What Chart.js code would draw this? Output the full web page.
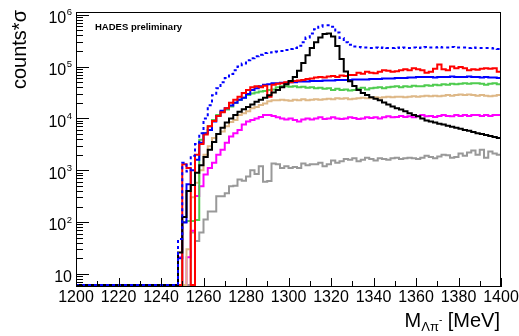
<!DOCTYPE html>
<html>
<head>
<meta charset="utf-8">
<script src="https://cdn.jsdelivr.net/npm/chart.js@4.4.0/dist/chart.umd.min.js"></script>
<style>
  body { margin: 0; background: #fff; }
  #wrap { width: 519px; height: 336px; }
</style>
</head>
<body>
<div id="wrap"><canvas id="chart" width="519" height="336"></canvas></div>
<script>
// histogram binning: 2 MeV bins, everything below 1248 MeV is empty
const firstEdge = 1200, lastEdge = 1400, binWidth = 2, dataStart = 1248;
const xTickLabels = [1200, 1220, 1240, 1260, 1280, 1300, 1320, 1340, 1360, 1380, 1400];
const yDecades = [1, 2, 3, 4, 5, 6];

// bins from 1248 to 1398 (76 bins)
const total = [ // blue dotted
  47, 1400, 950, 1900, 3200, 5200, 10000, 18000, 28000, 38000,
  50000, 60000, 72000, 85000, 100000, 115000, 132000, 145000, 158000, 170000,
  182000, 186000, 190000, 195000, 200000, 209000, 219000, 229000, 251000, 295000,
  363000, 436000, 525000, 589000, 630000, 630000, 589000, 457000, 355000, 295000,
  263000, 245000, 240000, 234000, 234000, 229000, 234000, 229000, 234000, 229000,
  229000, 234000, 229000, 234000, 229000, 234000, 229000, 234000, 240000, 234000,
  234000, 240000, 234000, 234000, 240000, 234000, 234000, 234000, 229000, 234000,
  229000, 229000, 229000, 229000, 224000, 219000
];
const xiMinus = [ // black
  26, 125, 400, 520, 900, 1250, 1800, 2500, 3500, 5000,
  6600, 8300, 10000, 11700, 13500, 15000, 16600, 18600, 21000, 23000,
  25000, 28000, 31600, 35500, 39800, 45700, 52500, 63100, 83200, 117000,
  166000, 229000, 295000, 363000, 427000, 437000, 380000, 250000, 140000, 80000,
  52000, 42000, 35500, 30900, 28200, 25700, 24000, 22400, 20400, 18600,
  17000, 15800, 14800, 13800, 12600, 11700, 11000, 10000, 9100, 8700,
  8300, 7900, 7600, 7200, 6900, 6600, 6300, 6000, 5800, 5500,
  5200, 5000, 4800, 4600, 4400, 4200
];
const redSeries = [
  0, 1300, 1100, 0, 2000, 3200, 4900, 7100, 8900, 11200,
  13200, 15800, 20000, 23000, 26300, 31000, 35500, 40000, 41700, 40000,
  42700, 26300, 44700, 46800, 47900, 50000, 50000, 52500, 53700, 55000,
  57500, 58900, 61700, 63100, 61700, 64600, 66100, 63100, 67600, 66100,
  69200, 69200, 75900, 72400, 79400, 75900, 74100, 79400, 85100, 83200,
  79400, 81300, 85100, 89100, 85100, 93300, 89100, 85100, 75900, 79400,
  91200, 110000, 89100, 85100, 100000, 93300, 97700, 93300, 85100, 89100,
  87100, 91200, 93300, 91200, 93300, 79400
];
const blueSeries = [
  20, 98, 540, 1000, 1600, 3400, 5200, 6000, 8700, 11200,
  14100, 15800, 17800, 20000, 22900, 25100, 29500, 35500, 38000, 41700,
  44700, 45700, 47900, 47900, 49000, 49000, 50100, 50100, 51300, 51300,
  51300, 52500, 52500, 52500, 53700, 53700, 53700, 55000, 55000, 55000,
  55000, 56200, 56200, 56200, 56200, 57500, 57500, 57500, 58900, 58900,
  58900, 60300, 60300, 60300, 61700, 61700, 63100, 63100, 63100, 63100,
  61700, 63100, 63100, 63100, 64600, 63100, 63100, 63100, 64600, 63100,
  63100, 61700, 63100, 61700, 61700, 60300
];
const greenSeries = [
  0, 100, 105, 105, 110, 3900, 5200, 7100, 9300, 11700,
  13500, 14800, 17000, 20000, 22900, 25100, 28200, 30200, 31600, 33100,
  33900, 35500, 36300, 39800, 41700, 41700, 40700, 41700, 39800, 40700,
  38900, 39800, 38000, 38900, 37200, 38000, 35500, 37200, 35500, 36300,
  34700, 35500, 37200, 38900, 36300, 38000, 38900, 39800, 38000, 39800,
  40700, 41700, 39800, 41700, 40700, 42700, 41700, 41700, 43700, 42700,
  44700, 43700, 45700, 44700, 46800, 45700, 46800, 47900, 46800, 47900,
  47900, 46800, 44700, 46800, 47900, 45700
];
const tanSeries = [
  0, 0, 30, 300, 575, 1000, 2000, 2900, 4200, 5000,
  5600, 7100, 8500, 9300, 11700, 12600, 13800, 15800, 16600, 18200,
  19500, 21400, 22400, 22400, 22900, 22400, 21900, 22900, 22400, 23400,
  22400, 22900, 23400, 22900, 23400, 24000, 23400, 24500, 24000, 24500,
  23400, 24000, 24500, 25100, 24500, 25100, 25700, 25100, 25700, 26300,
  25700, 26300, 26300, 25700, 26300, 26900, 26300, 26900, 27500, 26900,
  27500, 26900, 27500, 28200, 27500, 28200, 28800, 28200, 28800, 28200,
  27500, 28200, 27500, 26900, 27500, 28200
];
const magentaSeries = [
  21, 0, 21, 68, 320, 490, 830, 1100, 1400, 2000,
  2500, 3400, 4500, 5200, 6000, 7600, 8700, 9300, 10000, 10700,
  11700, 11700, 11200, 10500, 10000, 9500, 10000, 9300, 8700, 9500,
  10000, 9500, 10000, 10500, 9800, 10000, 10500, 10000, 9800, 10000,
  10500, 10200, 9800, 10000, 10500, 10200, 10500, 10000, 10500, 11000,
  10500, 10700, 11200, 10700, 11000, 10500, 11000, 11700, 11000, 11200,
  10700, 11200, 11700, 11200, 11000, 11700, 11200, 11700, 11200, 11700,
  11700, 11200, 11700, 11200, 11700, 11700
];
const graySeries = [
  0, 0, 0, 63, 43, 63, 112, 160, 160, 316,
  316, 360, 490, 500, 660, 630, 760, 1000, 850, 1200,
  600, 620, 1350, 1300, 1100, 1200, 1100, 1150, 1100, 1350,
  1250, 1300, 1300, 1400, 1200, 1300, 1550, 1400, 1500, 1650,
  1600, 1700, 1500, 1600, 1750, 1650, 1550, 1700, 1650, 1600,
  1700, 1750, 1650, 1700, 1750, 1700, 1650, 1750, 1900, 1800,
  1700, 1850, 2000, 1950, 1750, 1800, 2100, 1900, 2200, 2400,
  2000, 2500, 1750, 2300, 2100, 2000
];

const yMin = 5.6, yMax = 1.13e6;
const emptyLevel = 6.1; // ROOT draws empty bins at the bottom of the frame

function histPoints(values) {
  const pts = [];
  for (let x = firstEdge; x < dataStart; x += binWidth) pts.push({x: x, y: emptyLevel});
  values.forEach((v, i) => pts.push({x: dataStart + i * binWidth, y: v > 0 ? v : emptyLevel}));
  pts.push({x: lastEdge, y: values[values.length - 1]});
  return pts;
}

function hist(values, color, dash) {
  return {
    data: histPoints(values),
    borderColor: color,
    borderWidth: 2,
    borderDash: dash || [],
    pointRadius: 0,
    fill: false,
    stepped: true,
    tension: 0
  };
}

// draws the ROOT style frame, inner ticks, labels and titles
const rootFrame = {
  id: 'rootFrame',
  afterDraw(chart) {
    const ctx = chart.ctx;
    const a = chart.chartArea;
    const xs = chart.scales.x, ys = chart.scales.y;
    ctx.save();
    ctx.strokeStyle = '#000';
    ctx.lineWidth = 1;
    ctx.strokeRect(a.left + 0.5, a.top + 0.5, a.right - a.left - 1, a.bottom - a.top - 1);

    // x ticks
    ctx.beginPath();
    for (let v = firstEdge; v <= lastEdge; v += 10) {
      const px = Math.round(xs.getPixelForValue(v)) + 0.5;
      const len = v % 20 === 0 ? 9 : 6;
      ctx.moveTo(px, a.bottom);
      ctx.lineTo(px, a.bottom - len);
    }
    // y ticks
    yDecades.concat([0]).forEach(d => {
      for (let m = 1; m <= 9; m++) {
        const v = m * Math.pow(10, d);
        if (v < yMin || v > yMax) continue;
        const py = Math.round(ys.getPixelForValue(v)) + 0.5;
        ctx.moveTo(a.left, py);
        ctx.lineTo(a.left + (m === 1 ? 13 : 7), py);
      }
    });
    ctx.stroke();

    ctx.fillStyle = '#000';
    // x labels
    ctx.font = '16px "Liberation Sans", Arial, sans-serif';
    ctx.textAlign = 'center';
    ctx.textBaseline = 'alphabetic';
    xTickLabels.forEach(v => ctx.fillText(String(v), xs.getPixelForValue(v), a.bottom + 14.5));

    // y labels
    yDecades.forEach(d => {
      const py = ys.getPixelForValue(Math.pow(10, d));
      if (d === 1) {
        ctx.font = '16px "Liberation Sans", Arial, sans-serif';
        ctx.textAlign = 'right';
        ctx.fillText('10', 72, py + 8.3);
      } else {
        ctx.font = '9.5px "Liberation Sans", Arial, sans-serif';
        ctx.textAlign = 'right';
        ctx.fillText(String(d), 72, py + 0.5);
        const ew = ctx.measureText(String(d)).width;
        ctx.font = '16px "Liberation Sans", Arial, sans-serif';
        ctx.fillText('10', 72 - ew - 0.5, py + 8.3);
      }
    });

    // HADES preliminary
    ctx.font = 'bold 9.5px "Liberation Sans", Arial, sans-serif';
    ctx.textAlign = 'left';
    ctx.fillText('HADES preliminary', 95, 29.5);

    // x title: M_{Λπ-} [MeV], right aligned at 500
    const big = '20px "Liberation Sans", Arial, sans-serif';
    const sub = '13px "Liberation Sans", Arial, sans-serif';
    const sup = '10px "Liberation Sans", Arial, sans-serif';
    ctx.font = big; const wM = ctx.measureText('M').width; const wUnit = ctx.measureText(' [MeV]').width;
    ctx.font = sub; const wSub = ctx.measureText('\u039b\u03c0').width;
    ctx.font = sup; const wSup = ctx.measureText('-').width;
    let x0 = 500 - (wM + wSub + wSup + wUnit);
    const base = 326.5;
    ctx.textAlign = 'left';
    ctx.font = big; ctx.fillText('M', x0, base); x0 += wM;
    ctx.font = sub; ctx.fillText('\u039b\u03c0', x0, base + 4); x0 += wSub;
    ctx.font = sup; ctx.fillText('-', x0, base - 4); x0 += wSup;
    ctx.font = big; ctx.fillText(' [MeV]', x0, base);

    // y title
    ctx.translate(26, 10);
    ctx.rotate(-Math.PI / 2);
    ctx.textAlign = 'right';
    ctx.font = big;
    ctx.fillText('counts*\u03c3', 0, 0);
    ctx.restore();
  }
};

new Chart(document.getElementById('chart'), {
  type: 'line',
  data: {
    datasets: [
      hist(total, '#0000ff', [3, 3]),
      hist(xiMinus, '#000000'),
      hist(redSeries, '#ff0000'),
      hist(blueSeries, '#0000ff'),
      hist(greenSeries, '#4fcc4f'),
      hist(tanSeries, '#deb887'),
      hist(magentaSeries, '#ff00ff'),
      hist(graySeries, '#999999')
    ]
  },
  options: {
    responsive: false,
    animation: false,
    layout: { padding: { left: 76, right: 18, top: 12, bottom: 49 } },
    plugins: { legend: { display: false }, tooltip: { enabled: false } },
    scales: {
      x: { type: 'linear', min: firstEdge, max: lastEdge, display: false },
      y: { type: 'logarithmic', min: yMin, max: yMax, display: false }
    }
  },
  plugins: [rootFrame]
});
</script>
</body>
</html>
